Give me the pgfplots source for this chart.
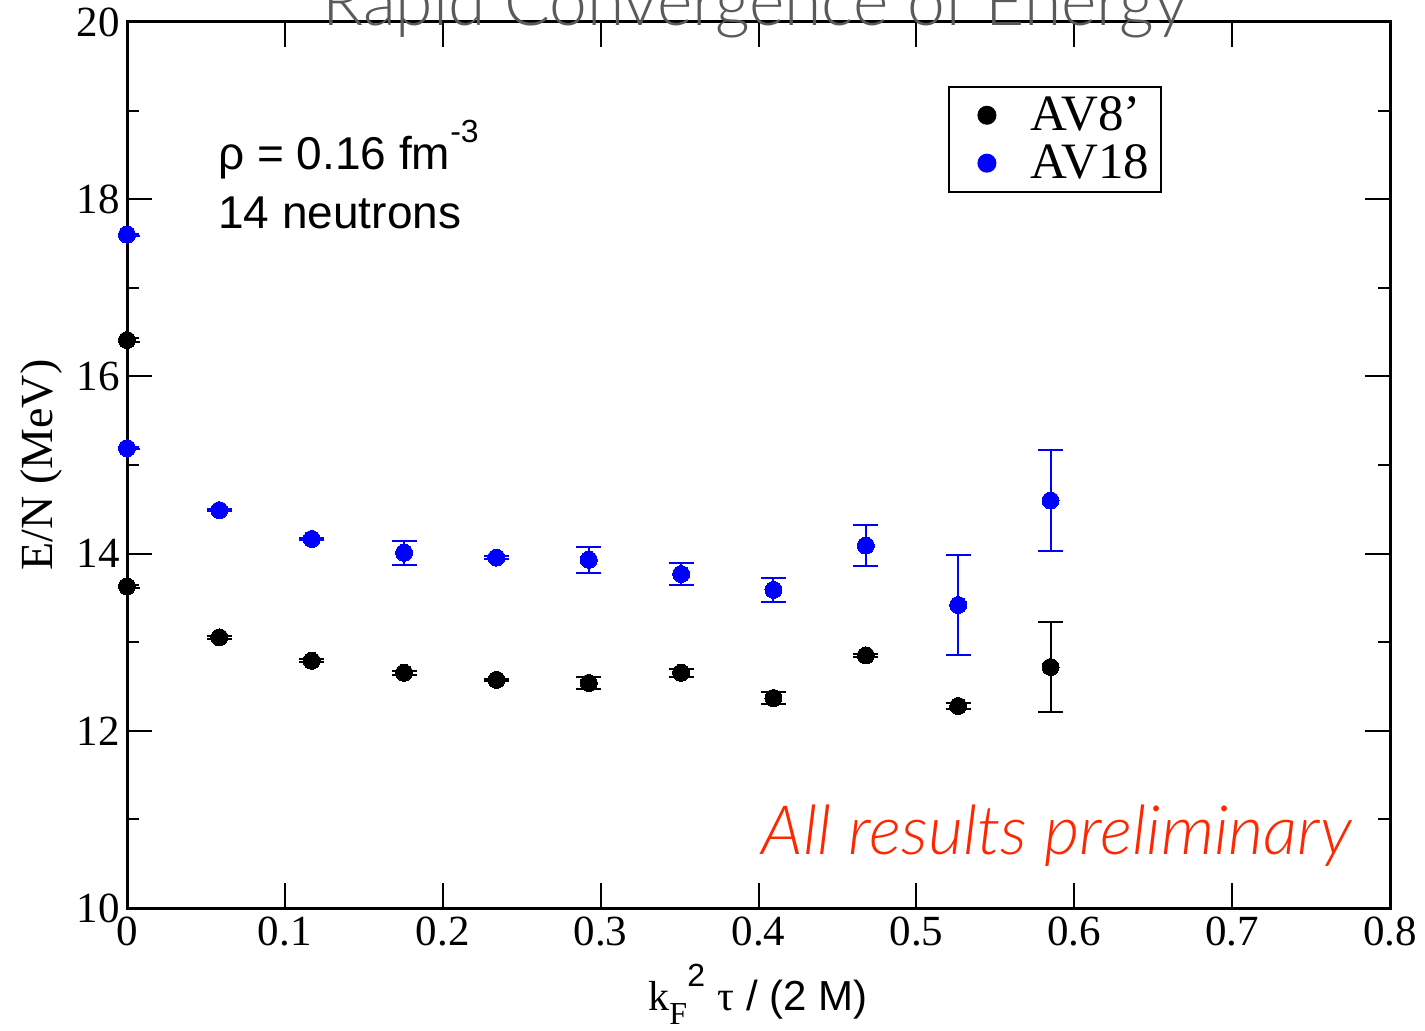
\documentclass[border=0pt]{standalone}
\usepackage{fontspec}
\setmainfont{Liberation Serif}
\setsansfont{Liberation Sans}
\newfontfamily\lato{Lato}[UprightFont=* Light, ItalicFont=* Light Italic]
\usepackage{pgfplots}
\usepackage{pgfplotstable}
\pgfplotsset{compat=1.18}
\definecolor{prelim}{RGB}{255,38,0}
\definecolor{titlegray}{RGB}{90,90,90}

\pgfplotstableread{
x      y       e
0      16.41   0.02
0      13.63   0.02
0.0585 13.055  0.015
0.117  12.79   0.015
0.1755 12.655  0.02
0.234  12.575  0.015
0.2925 12.54   0.07
0.351  12.655  0.043
0.4095 12.37   0.068
0.468  12.85   0.015
0.5265 12.28   0.034
0.585  12.72   0.51
}\avEight

\pgfplotstableread{
x      y       e
0      17.60   0.01
0      15.19   0.01
0.0585 14.49   0.012
0.117  14.165  0.012
0.1755 14.01   0.133
0.234  13.955  0.02
0.2925 13.93   0.145
0.351  13.77   0.12
0.4095 13.59   0.14
0.468  14.09   0.235
0.5265 13.42   0.565
0.585  14.60   0.565
}\avEighteen

\begin{document}
\begin{tikzpicture}
\begin{axis}[
  at={(0pt,0pt)}, anchor=south west,
  scale only axis, width=631.5pt, height=443pt,
  xmin=0, xmax=0.8, ymin=10, ymax=20,
  xtick={0,0.1,0.2,0.3,0.4,0.5,0.6,0.7,0.8},
  ytick={10,12,14,16,18,20},
  minor ytick={11,13,15,17,19},
  tick align=inside,
  major tick length=12.5pt, minor tick length=6pt,
  every tick/.style={line width=1pt, black},
  axis line style={line width=1.5pt},
  tick label style={font=\fontsize{21.5}{24}\selectfont},
  /pgf/number format/assume math mode=true,
  /pgf/number format/fixed,
  xticklabel style={yshift=-1pt},
  legend style={at={(axis description cs:0.650,0.928)}, anchor=north west,
    draw=black, line width=1pt, font=\fontsize{25.5}{27}\selectfont,
    inner xsep=4pt, inner ysep=3pt, row sep=1.5pt},
  legend cell align=left,
]
\addplot[only marks, mark=*, black, mark options={fill=black, draw=black, line width=0pt}, mark size=4.25pt,
  legend image code/.code={\path[draw=none,fill=none] (0,0) rectangle (35pt,0.1pt); \fill[black] (15pt,0) circle (4.25pt);},
  error bars/.cd, y dir=both, y explicit,
  error bar style={line width=1pt, black},
  error mark options={rotate=90, mark size=6.25pt, line width=1pt, black}]
  table[x=x, y=y, y error=e] {\avEight};
\addlegendentry{AV8’}
\addplot[only marks, mark=*, blue, mark options={fill=blue, draw=blue, line width=0pt}, mark size=4.25pt,
  legend image code/.code={\path[draw=none,fill=none] (0,0) rectangle (35pt,0.1pt); \fill[blue] (15pt,0) circle (4.25pt);},
  error bars/.cd, y dir=both, y explicit,
  error bar style={line width=1pt, blue},
  error mark options={rotate=90, mark size=6.25pt, line width=1pt, blue}]
  table[x=x, y=y, y error=e] {\avEighteen};
\addlegendentry{AV18}

\node[anchor=base west, inner sep=0pt, font=\sffamily\fontsize{23}{26}\selectfont] at (axis cs:0.0576,18.33)
  {ρ = 0.16 fm\raisebox{0.6em}{\fontsize{16}{16}\selectfont -3}};
\node[anchor=base west, inner sep=0pt, font=\sffamily\fontsize{23}{26}\selectfont] at (axis cs:0.0576,17.67)
  {14 neutrons};
\node[anchor=base east, text=prelim, inner sep=0pt] at (axis cs:0.776,10.6)
  {\resizebox{295pt}{!}{\lato\itshape All results preliminary}};
\end{axis}

\node[anchor=base, rotate=90, font=\fontsize{23}{26}\selectfont] at (-37.5pt,221.5pt) {E/N (MeV)};
\node[anchor=base, font=\fontsize{21}{24}\selectfont] at (315.5pt,-51pt)
  {k\raisebox{-0.35em}{\fontsize{16}{16}\selectfont F}\raisebox{0.55em}{\fontsize{16}{16}\selectfont\sffamily 2}\hspace{0.3em}τ\sffamily\ / (2 M)};
\node[anchor=base, text=titlegray, inner sep=0pt] at (314pt,441pt)
  {\resizebox{432.5pt}{!}{\lato Rapid Convergence of Energy}};

\pgfresetboundingbox
\path[use as bounding box] (-63.5pt,-61pt) rectangle (649pt,454pt);
\end{tikzpicture}
\end{document}
